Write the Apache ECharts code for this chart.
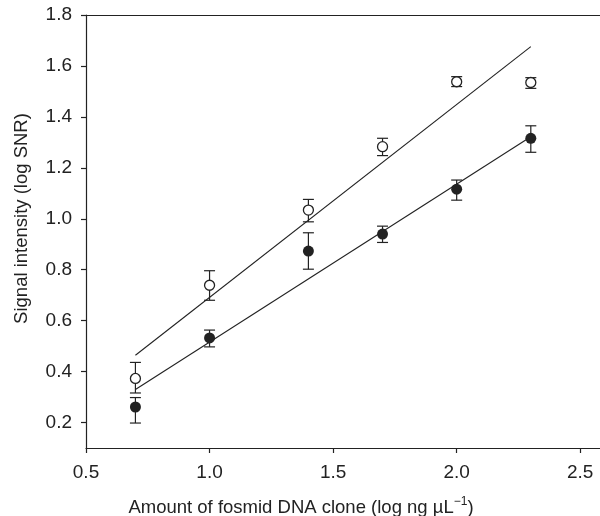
<!DOCTYPE html>
<html>
<head>
<meta charset="utf-8">
<script src="https://cdn.jsdelivr.net/npm/echarts@6/dist/echarts.min.js"></script>
<style>
  html, body { margin: 0; padding: 0; background: #fff; }
  #app { width: 600px; height: 516px; }
</style>
</head>
<body>
<div id="app"></div>
<script>
// x values (log ng/uL)
const xVals = [0.7, 1.0, 1.4, 1.7, 2.0, 2.3];

// open circles
const openMean = [0.373, 0.739, 1.034, 1.283, 1.538, 1.535];
const openLow = [0.316, 0.680, 0.988, 1.248, 1.519, 1.512];
const openHigh = [0.436, 0.796, 1.076, 1.316, 1.558, 1.554];

// filled circles
const fillMean = [0.261, 0.532, 0.873, 0.940, 1.116, 1.316];
const fillLow = [0.198, 0.497, 0.802, 0.907, 1.073, 1.261];
const fillHigh = [0.298, 0.563, 0.945, 0.971, 1.152, 1.365];

// fitted lines, end points
const openFit = [[0.7, 0.464], [2.3, 1.676]];
const fillFit = [[0.7, 0.330], [2.3, 1.322]];

const xTicks = [0.5, 1.0, 1.5, 2.0, 2.5];
const yTicks = [0.2, 0.4, 0.6, 0.8, 1.0, 1.2, 1.4, 1.6, 1.8];

const ink = '#222';
const font = 'Liberation Sans, Arial, sans-serif';

function pts(means) {
  return xVals.map((x, i) => [x, means[i]]);
}
function bars(low, high) {
  return xVals.map((x, i) => [x, low[i], high[i]]);
}

function errorBar(params, api) {
  const x = api.value(0);
  const lo = api.coord([x, api.value(1)]);
  const hi = api.coord([x, api.value(2)]);
  const cap = 5.5;
  const style = { stroke: ink, lineWidth: 1.2 };
  return {
    type: 'group',
    children: [
      { type: 'line', shape: { x1: lo[0], y1: lo[1], x2: hi[0], y2: hi[1] }, style },
      { type: 'line', shape: { x1: lo[0] - cap, y1: lo[1], x2: lo[0] + cap, y2: lo[1] }, style },
      { type: 'line', shape: { x1: hi[0] - cap, y1: hi[1], x2: hi[0] + cap, y2: hi[1] }, style },
    ],
  };
}

const chart = echarts.init(document.getElementById('app'));

const option = {
  backgroundColor: '#fff',
  animation: false,
  textStyle: { fontFamily: font },
  grid: { left: 86, top: 15, right: 0, bottom: 68, containLabel: false, outerBoundsMode: 'none' },
  xAxis: [
    {
      type: 'value',
      min: 0.5,
      max: 2.58,
      name: 'Amount of fosmid DNA clone (log ng µL{sup|−1})',
      nameLocation: 'middle',
      nameGap: 48,
      nameTextStyle: {
        color: ink,
        fontSize: 18.5,
        fontFamily: font,
        padding: [0, 84, 0, 0],
        rich: {
          sup: { fontSize: 12, color: ink, fontFamily: font, verticalAlign: 'top', padding: [0, 0, 12, 0] },
        },
      },
      splitLine: { show: false },
      axisLine: { lineStyle: { color: ink, width: 1.2 } },
      axisTick: { show: true, length: 5, customValues: xTicks, lineStyle: { color: ink, width: 1.2 } },
      axisLabel: {
        customValues: xTicks,
        margin: 15,
        color: ink,
        fontSize: 19,
        formatter: (v) => v.toFixed(1),
      },
    },
    {
      type: 'value',
      position: 'top',
      min: 0.5,
      max: 2.58,
      axisLine: { show: true, lineStyle: { color: ink, width: 1.2 } },
      axisTick: { show: false },
      axisLabel: { show: false },
      splitLine: { show: false },
    },
  ],
  yAxis: {
    type: 'value',
    min: 0.1,
    max: 1.8,
    name: 'Signal intensity (log SNR)',
    nameLocation: 'middle',
    nameGap: 55,
    nameTextStyle: { color: ink, fontSize: 18.5, fontFamily: font, padding: [0, 0, 0, 26] },
    splitLine: { show: false },
    axisLine: { show: true, lineStyle: { color: ink, width: 1.2 } },
    axisTick: { show: true, length: 5, customValues: yTicks, lineStyle: { color: ink, width: 1.2 } },
    axisLabel: {
      customValues: yTicks,
      margin: 14,
      color: ink,
      fontSize: 19,
      formatter: (v) => v.toFixed(1),
    },
  },
  series: [
    {
      type: 'line',
      data: openFit,
      symbol: 'none',
      lineStyle: { color: ink, width: 1.1 },
      z: 1,
    },
    {
      type: 'line',
      data: fillFit,
      symbol: 'none',
      lineStyle: { color: ink, width: 1.1 },
      z: 1,
    },
    {
      type: 'custom',
      data: bars(openLow, openHigh),
      renderItem: errorBar,
      z: 2,
    },
    {
      type: 'custom',
      data: bars(fillLow, fillHigh),
      renderItem: errorBar,
      z: 2,
    },
    {
      type: 'scatter',
      data: pts(openMean),
      symbol: 'circle',
      symbolSize: 10,
      itemStyle: { color: '#fff', borderColor: ink, borderWidth: 1.3, opacity: 1 },
      z: 3,
    },
    {
      type: 'scatter',
      data: pts(fillMean),
      symbol: 'circle',
      symbolSize: 11,
      itemStyle: { color: ink, opacity: 1 },
      z: 3,
    },
  ],
};

chart.setOption(option);
</script>
</body>
</html>
